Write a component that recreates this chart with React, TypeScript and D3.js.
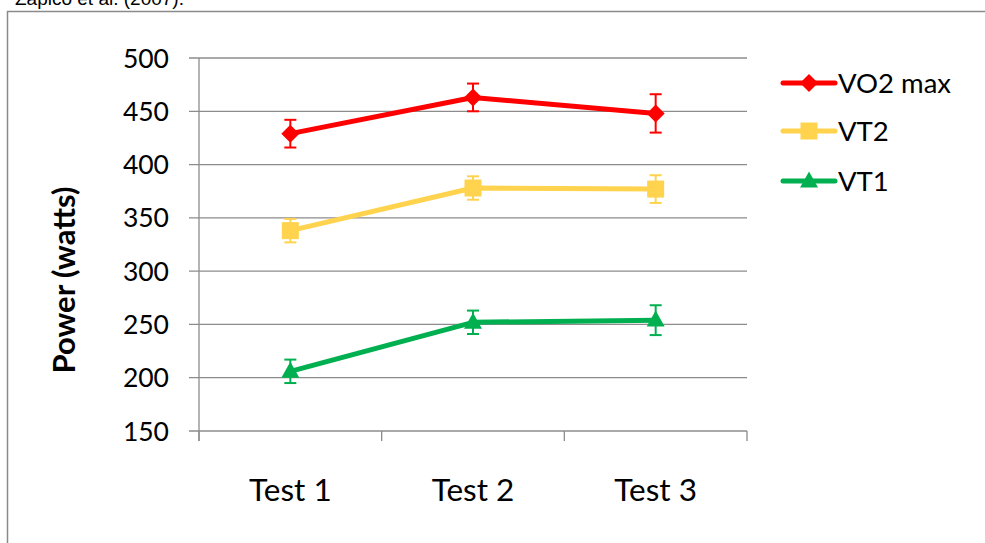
import React from "react";
import * as d3 from "d3";

const categories = ["Test 1", "Test 2", "Test 3"];
const yTicks = [150, 200, 250, 300, 350, 400, 450, 500];

const seriesNames = ["VO2 max", "VT2", "VT1"];
const vo2Max = [429, 463, 448];
const vo2MaxErr = [13, 13, 18];
const vt2 = [338, 378, 377];
const vt2Err = [11, 11, 13];
const vt1 = [206, 252, 254];
const vt1Err = [11, 11, 14];

const colors = ["#FF0000", "#FFD34D", "#00B050"];
const markers = ["diamond", "square", "triangle"];

const FONT = "Lato, 'Open Sans', sans-serif";

function Marker({ type, x, y, color }: { type: string; x: number; y: number; color: string }) {
  if (type === "diamond") {
    const r = 9;
    return <path d={`M${x},${y - r}L${x + r},${y}L${x},${y + r}L${x - r},${y}Z`} fill={color} />;
  }
  if (type === "square") {
    const s = 17;
    return <rect x={x - s / 2} y={y - s / 2} width={s} height={s} fill={color} />;
  }
  const w = 18;
  const h = 16;
  return <path d={`M${x},${y - h * 0.6}L${x + w / 2},${y + h * 0.4}L${x - w / 2},${y + h * 0.4}Z`} fill={color} />;
}

export default function App() {
  const W = 985;
  const H = 543;
  const left = 199;
  const right = 747;
  const top = 58;
  const bottom = 431;

  const x = d3.scaleBand<string>().domain(categories).range([left, right]);
  const y = d3.scaleLinear().domain([150, 500]).range([bottom, top]);
  const cx = (c: string) => (x(c) as number) + x.bandwidth() / 2;

  const series = [
    { name: seriesNames[0], values: vo2Max, err: vo2MaxErr, color: colors[0], marker: markers[0] },
    { name: seriesNames[1], values: vt2, err: vt2Err, color: colors[1], marker: markers[1] },
    { name: seriesNames[2], values: vt1, err: vt1Err, color: colors[2], marker: markers[2] },
  ];

  const line = d3
    .line<number>()
    .x((_, i) => cx(categories[i]))
    .y((d) => y(d));

  const bandEdges = [...categories.map((c) => x(c) as number), right];

  return (
    <svg
      width={W}
      height={H}
      style={{ position: "absolute", left: 0, top: 0, background: "#fff" }}
    >
      <rect x={0} y={0} width={W} height={H} fill="#fff" />
      <text x={15} y={5} fontFamily="Arial, 'Liberation Sans', sans-serif" fontSize={19} fill="#000">
        Zapico et al. (2007).
      </text>
      <line x1={7} y1={11.5} x2={W} y2={11.5} stroke="#8a8a8a" strokeWidth={1.5} />
      <line x1={7.5} y1={11} x2={7.5} y2={H} stroke="#8a8a8a" strokeWidth={1.5} />

      {/* gridlines */}
      {yTicks.map((t) => (
        <line key={t} x1={189} x2={right} y1={y(t)} y2={y(t)} stroke="#8c8c8c" strokeWidth={1.3} />
      ))}
      {/* y axis */}
      <line x1={left} x2={left} y1={top} y2={bottom + 10} stroke="#8c8c8c" strokeWidth={1.3} />
      {/* x ticks */}
      {bandEdges.map((e, i) => (
        <line key={i} x1={e} x2={e} y1={bottom} y2={bottom + 10} stroke="#8c8c8c" strokeWidth={1.3} />
      ))}

      {yTicks.map((t) => (
        <text
          key={t}
          x={169}
          y={y(t)}
          dy="0.36em"
          textAnchor="end"
          fontFamily={FONT}
          fontSize={26.5}
          fill="#000"
        >
          {t}
        </text>
      ))}
      {categories.map((c) => (
        <text key={c} x={cx(c)} y={501} textAnchor="middle" fontFamily={FONT} fontSize={31.5} fill="#000">
          {c}
        </text>
      ))}
      <text
        transform={`translate(75,280) rotate(-90)`}
        textAnchor="middle"
        fontFamily={FONT}
        fontWeight="bold"
        fontSize={31}
        fill="#000"
      >
        Power (watts)
      </text>

      {series.map((s) => (
        <g key={s.name}>
          <path d={line(s.values) || ""} fill="none" stroke={s.color} strokeWidth={5} strokeLinejoin="round" />
          {s.values.map((v, i) => {
            const px = cx(categories[i]);
            const y1 = y(v + s.err[i]);
            const y2 = y(v - s.err[i]);
            return (
              <g key={i}>
                <line x1={px} x2={px} y1={y1} y2={y2} stroke={s.color} strokeWidth={2} />
                <line x1={px - 6} x2={px + 6} y1={y1} y2={y1} stroke={s.color} strokeWidth={2} />
                <line x1={px - 6} x2={px + 6} y1={y2} y2={y2} stroke={s.color} strokeWidth={2} />
                <Marker type={s.marker} x={px} y={y(v)} color={s.color} />
              </g>
            );
          })}
        </g>
      ))}

      {/* legend */}
      {series.map((s, i) => {
        const ly = [83, 131, 181][i];
        return (
          <g key={s.name}>
            <line x1={783} x2={835} y1={ly} y2={ly} stroke={s.color} strokeWidth={5} strokeLinecap="round" />
            <Marker type={s.marker} x={809} y={ly} color={s.color} />
            <text x={838} y={ly} dy="0.36em" fontFamily={FONT} fontSize={27.5} fill="#000">
              {s.name}
            </text>
          </g>
        );
      })}
    </svg>
  );
}
